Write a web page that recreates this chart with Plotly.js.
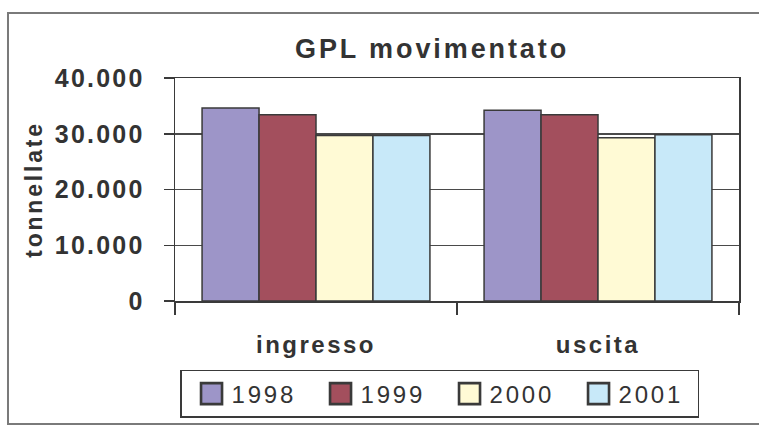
<!DOCTYPE html>
<html><head><meta charset="utf-8">
<script src="https://cdn.plot.ly/plotly-3.0.1.min.js"></script>
<style>
html,body{margin:0;padding:0;background:#fff;}
#chart{width:759px;height:426px;}
#chart .gtitle{letter-spacing:2.9px;}
#chart .ytick text{letter-spacing:2.2px;}
#chart .xtick text{letter-spacing:2.5px;}
#chart .ytitle{letter-spacing:2.8px;}
#chart .legendtext{letter-spacing:2.8px;}
</style></head><body><div id="chart"></div>
<script>
const categories = ['ingresso', 'uscita'];
const years = ['1998', '1999', '2000', '2001'];
const v1998 = [34600, 34200];
const v1999 = [33400, 33400];
const v2000 = [29700, 29300];
const v2001 = [29700, 29800];
const yTickVals = [0, 10000, 20000, 30000, 40000];
const colors = ['#9D95C8', '#A34F5D', '#FFFAD5', '#C8E9F9'];
const series = [v1998, v1999, v2000, v2001];

const traces = series.map((vals, i) => ({
  type: 'bar', name: years[i], x: categories, y: vals,
  marker: {color: colors[i], line: {color: '#3a3a3a', width: 1.5}},
  hoverinfo: 'skip'
}));

const layout = {
  width: 759, height: 426,
  margin: {l: 175, r: 20, t: 78, b: 125, pad: 0},
  paper_bgcolor: '#fff', plot_bgcolor: '#fff',
  separators: ',.',
  font: {family: 'Liberation Sans, Arial, sans-serif', color: '#333'},
  barmode: 'group', bargap: 0.192, bargroupgap: 0,
  showlegend: true,
  title: {text: '<b>GPL movimentato</b>', font: {size: 27, color: '#333'},
    xref: 'paper', x: 0.4557, xanchor: 'center', yref: 'container', y: 0.887, yanchor: 'middle'},
  xaxis: {type: 'category', tickson: 'boundaries', ticks: 'outside', ticklen: 12, tickwidth: 1.5,
    tickcolor: '#3a3a3a', showline: true, linecolor: '#3a3a3a', linewidth: 1.5, mirror: true,
    showgrid: false, tickfont: {size: 24, color: '#333', weight: 'bold'}, ticklabelstandoff: 22,
    automargin: false, fixedrange: true},
  yaxis: {range: [0, 40000], tickvals: yTickVals, tickformat: ',d', ticks: 'outside', ticklen: 10,
    tickwidth: 1.5, tickcolor: '#3a3a3a', showline: true, linecolor: '#3a3a3a', linewidth: 1.5,
    mirror: true, showgrid: true, gridcolor: '#4a4a4a', gridwidth: 1.5, zeroline: false,
    tickfont: {size: 25, color: '#333', weight: 'bold'}, ticklabelstandoff: 14,
    title: {text: '<b>tonnellate</b>', font: {size: 23, color: '#333'}, standoff: 19},
    automargin: false, fixedrange: true},
  legend: {orientation: 'h', xref: 'container', x: 0.2372, xanchor: 'left',
    yref: 'container', y: 0.1315, yanchor: 'top', indentation: 10,
    bordercolor: '#3a3a3a', borderwidth: 1.5, bgcolor: '#fff',
    font: {size: 24, color: '#333'}, entrywidth: 74, entrywidthmode: 'pixels',
    itemclick: false, itemdoubleclick: false},
  shapes: [{type: 'rect', xref: 'paper', yref: 'paper', x0: -0.2961, x1: 1.06, y0: -0.5516, y1: 1.2915,
    line: {color: '#7a7a7a', width: 2}, fillcolor: 'rgba(0,0,0,0)', layer: 'below'}]
};

Plotly.newPlot('chart', traces, layout, {staticPlot: true, displayModeBar: false}).then(gd => {
  document.querySelectorAll('#chart .legendpoints path').forEach(p => {
    const t = p.getAttribute('transform') || '';
    p.setAttribute('transform', t + ' scale(1.75)');
  });
});
</script></body></html>
